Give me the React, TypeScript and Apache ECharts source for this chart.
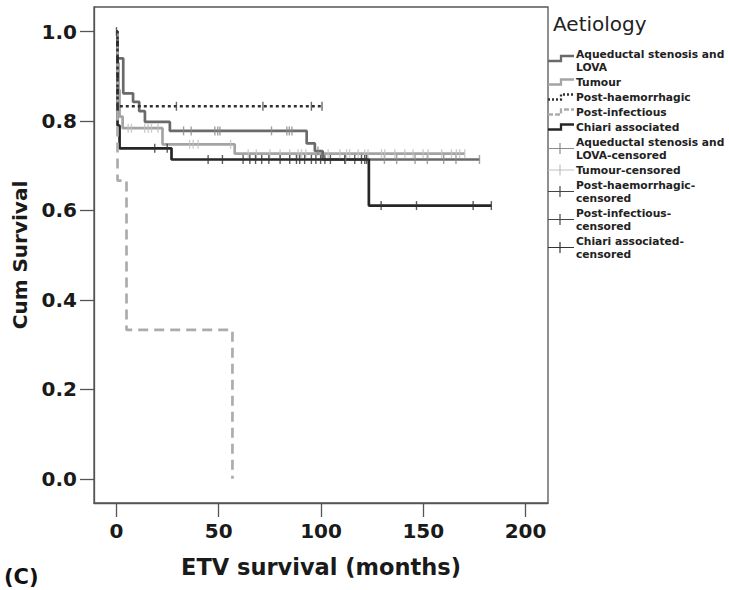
import React, { useEffect, useRef } from "react";
import * as echarts from "echarts";

// ---- axis ticks ----
const xTicks = [0, 50, 100, 150, 200];
const yTicks = [0, 0.2, 0.4, 0.6, 0.8, 1.0];

// ---- Kaplan-Meier step data (time in months, cumulative survival) ----
const aqueductalTimes = [0, 0.5, 3.3, 8.1, 11.1, 13.9, 26.1, 93.0, 97.0, 100.8, 177.5];
const aqueductalSurv = [1.0, 0.94, 0.862, 0.843, 0.822, 0.798, 0.778, 0.75, 0.733, 0.714, 0.714];
const aqueductalCensored = [32.8, 36.5, 48.1, 49.5, 50.6, 75.8, 83.3, 84.5, 85.8, 98.5, 112, 131, 137, 146, 152, 160, 166, 177.5];

const tumourTimes = [0, 0.5, 1.0, 1.5, 3.0, 22.5, 57.8, 170.3];
const tumourSurv = [1.0, 0.93, 0.87, 0.81, 0.784, 0.748, 0.727, 0.727];
const tumourCensored = [5.7, 7.3, 13.8, 15.5, 17.1, 20.3, 35.8, 37.5, 39.9, 55.8, 64.4, 68.4, 75, 80, 84.7, 88.8, 90.5, 92.6, 103.5, 109.2, 112.5, 114, 118.2, 121.4, 123, 129.6, 131.2, 136.1, 141, 145, 149.9, 152.4, 159, 163.8, 166.2, 167.8, 170.3];

const haemTimes = [0, 0.5, 100.5];
const haemSurv = [1.0, 0.833, 0.833];
const haemCensored = [0.8, 29.3, 71.6, 95.3, 100.5];

const infectTimes = [0, 0.5, 4.9, 56.7];
const infectSurv = [1.0, 0.667, 0.333, 0.0];
const infectCensored: number[] = [];

const chiariTimes = [0, 0.5, 1.5, 26.9, 123.4, 183.3];
const chiariSurv = [1.0, 0.79, 0.739, 0.714, 0.611, 0.611];
const chiariCensored = [0, 18.7, 24.8, 44.8, 51.8, 61.9, 65.2, 68, 71, 74.5, 80, 84.7, 88, 89.6, 92, 95.3, 97.5, 99.8, 101.9, 104.6, 111.6, 116.5, 119.8, 121.4, 122.3, 129.4, 146.7, 174.4, 183.3];

// ---- legend text ----
const legendTitle = "Aetiology";
const groupNames = ["Aqueductal stenosis and LOVA", "Tumour", "Post-haemorrhagic", "Post-infectious", "Chiari associated"];
const lineLegendLines = [["Aqueductal stenosis and", "LOVA"], ["Tumour"], ["Post-haemorrhagic"], ["Post-infectious"], ["Chiari associated"]];
const censoredLegendLines = [["Aqueductal stenosis and", "LOVA-censored"], ["Tumour-censored"], ["Post-haemorrhagic-", "censored"], ["Post-infectious-", "censored"], ["Chiari associated-", "censored"]];

const xAxisTitle = "ETV survival (months)";
const yAxisTitle = "Cum Survival";
const panelLabel = "(C)";

const FONT = "'DejaVu Sans', sans-serif";

type Style = { color: string; width: number; type: any; legendDash: number[] | null; censorColor: string };
const groupStyles: Style[] = [
  { color: "#6a6a6a", width: 2.7, type: "solid", legendDash: null, censorColor: "#8a8a8a" },
  { color: "#a4a4a4", width: 2.7, type: "solid", legendDash: null, censorColor: "#c0c0c0" },
  { color: "#303030", width: 2.5, type: [3, 3], legendDash: [2, 2], censorColor: "#444" },
  { color: "#acacac", width: 2.7, type: [10, 6], legendDash: [5, 2], censorColor: "#444" },
  { color: "#262626", width: 2.7, type: "solid", legendDash: null, censorColor: "#333" },
];

const groupTimes = [aqueductalTimes, tumourTimes, haemTimes, infectTimes, chiariTimes];
const groupSurv = [aqueductalSurv, tumourSurv, haemSurv, infectSurv, chiariSurv];
const groupCensored = [aqueductalCensored, tumourCensored, haemCensored, infectCensored, chiariCensored];

function survAt(times: number[], surv: number[], t: number) {
  let v = surv[0];
  for (let i = 0; i < times.length; i++) if (times[i] <= t) v = surv[i];
  return v;
}

function buildLegend() {
  const els: any[] = [];
  const textX = 576;
  const iconL = 548;
  const iconR = 574;
  const lh = 13;
  const gap = 2;
  els.push({
    type: "text",
    style: { text: legendTitle, x: 553, y: 14, font: `20px ${FONT}`, fill: "#222", textVerticalAlign: "top", verticalAlign: "top" },
  });
  let y = 54;
  const addText = (lines: string[]) => {
    lines.forEach((ln, k) => {
      els.push({
        type: "text",
        style: { text: ln, x: textX, y: y + k * lh, font: `bold 10.7px ${FONT}`, fill: "#222", textVerticalAlign: "middle", verticalAlign: "middle" },
      });
    });
  };
  lineLegendLines.forEach((lines, i) => {
    const cy = y + ((lines.length - 1) * lh) / 2 - (lines.length > 1 ? 2 : 0);
    const st = groupStyles[i];
    const mid = iconL + 13;
    els.push({
      type: "polyline",
      shape: { points: [[iconL, cy + 2.5], [mid, cy + 2.5], [mid, cy - 2.5], [iconR, cy - 2.5]] },
      style: { stroke: st.color, lineWidth: 2.3, fill: null, lineDash: st.legendDash },
    });
    addText(lines);
    y += lines.length * lh + gap;
  });
  censoredLegendLines.forEach((lines, i) => {
    const cy = y + ((lines.length - 1) * lh) / 2;
    const st = groupStyles[i];
    els.push({ type: "line", shape: { x1: iconL, y1: cy, x2: iconR, y2: cy }, style: { stroke: st.censorColor, lineWidth: 1 } });
    els.push({ type: "line", shape: { x1: 560, y1: cy - 5.5, x2: 560, y2: cy + 5.5 }, style: { stroke: st.censorColor, lineWidth: 1.2 } });
    addText(lines);
    y += lines.length * lh + gap;
  });
  els.push({
    type: "text",
    style: { text: panelLabel, x: 4, y: 566, font: `bold 21px ${FONT}`, fill: "#111", textVerticalAlign: "top", verticalAlign: "top" },
  });
  return els;
}

export default function App() {
  const ref = useRef<HTMLDivElement>(null);
  useEffect(() => {
    if (!ref.current) return;
    const chart = echarts.init(ref.current, null, { renderer: "svg" });
    const axisColor = "#555";
    const lineSeries = groupNames.map((name, i) => ({
      name,
      type: "line",
      step: "end",
      showSymbol: false,
      symbol: "none",
      data: groupTimes[i].map((t, k) => [t, groupSurv[i][k]]),
      lineStyle: { color: groupStyles[i].color, width: groupStyles[i].width, type: groupStyles[i].type },
    }));
    const drawOrder = [1, 0, 4, 3, 2];
    const orderedLines = drawOrder.map((i, k) => ({ ...lineSeries[i], z: 2 + k }));
    const censorSeries = groupNames.map((name, i) => ({
      name: name + "-censored",
      type: "scatter",
      symbol: "rect",
      symbolSize: [1.4, 9],
      z: 10,
      data: groupCensored[i].map((t) => [t, survAt(groupTimes[i], groupSurv[i], t)]),
      itemStyle: { color: groupStyles[i].censorColor },
    }));
    chart.setOption({
      animation: false,
      backgroundColor: "#fff",
      grid: { left: 94, right: 181, top: 7, bottom: 87, show: true, borderColor: "#555", borderWidth: 1.3 },
      xAxis: {
        type: "value",
        min: -11,
        max: 211,
        name: xAxisTitle,
        nameLocation: "middle",
        nameGap: 52,
        nameTextStyle: { fontFamily: FONT, fontWeight: "bold", fontSize: 22.5, color: "#1a1a1a" },
        axisLine: { show: true, onZero: false, lineStyle: { color: axisColor, width: 1.3 } },
        axisTick: { show: true, length: 14, customValues: xTicks, lineStyle: { color: axisColor, width: 1.3 } },
        axisLabel: { customValues: xTicks, margin: 18, fontFamily: FONT, fontWeight: "bold", fontSize: 20, color: "#1a1a1a" },
        splitLine: { show: false },
      },
      yAxis: {
        type: "value",
        min: -0.054,
        max: 1.055,
        name: yAxisTitle,
        nameLocation: "middle",
        nameGap: 64,
        nameRotate: 90,
        nameTextStyle: { fontFamily: FONT, fontWeight: "bold", fontSize: 20, color: "#1a1a1a" },
        axisLine: { show: true, onZero: false, lineStyle: { color: axisColor, width: 1.3 } },
        axisTick: { show: true, length: 14, customValues: yTicks, lineStyle: { color: axisColor, width: 1.3 } },
        axisLabel: { customValues: yTicks, margin: 17, fontFamily: FONT, fontWeight: "bold", fontSize: 20, color: "#1a1a1a", formatter: (v: number) => v.toFixed(1) },
        splitLine: { show: false },
      },
      series: [...orderedLines, ...censorSeries],
      graphic: buildLegend(),
    });
    return () => chart.dispose();
  }, []);
  return <div ref={ref} style={{ position: "absolute", left: 0, top: 0, width: 729, height: 590 }} />;
}
